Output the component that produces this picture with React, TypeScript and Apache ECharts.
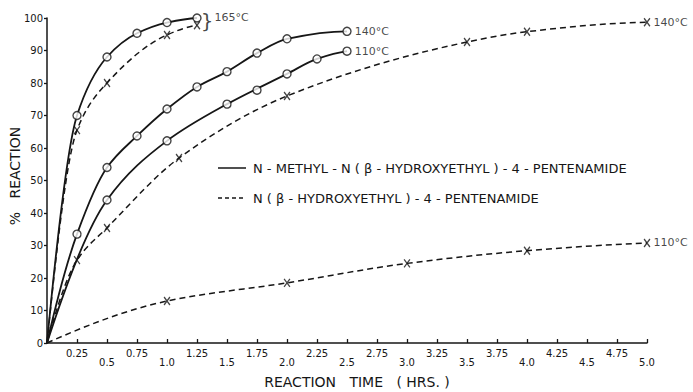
import React, { useEffect, useRef } from "react";
import * as echarts from "echarts";

// Reaction time (hrs) vs % reaction
const xMax = 5.0;
const xInterval = 0.25;
const yMax = 100;
const yInterval = 10;

const origin: [number, number] = [0, 0];

// N-methyl-N(β-hydroxyethyl)-4-pentenamide (solid, circles)
const methyl165: [number, number][] = [[0.25, 70], [0.5, 88], [0.75, 95.3], [1.0, 98.6], [1.25, 100]];
const methyl140: [number, number][] = [[0.25, 33.5], [0.5, 54], [0.75, 63.7], [1.0, 72], [1.25, 78.8], [1.5, 83.5], [1.75, 89.2], [2.0, 93.6], [2.5, 95.9]];
const methyl110: [number, number][] = [[0.5, 44], [1.0, 62.2], [1.5, 73.5], [2.0, 82.8], [2.25, 87.4], [2.5, 89.8]];
const methyl110Outlier: [number, number][] = [[1.75, 77.8]];

// N(β-hydroxyethyl)-4-pentenamide (dashed, X)
const hydroxy165: [number, number][] = [[0.25, 65.5], [0.5, 80], [1.0, 94.8], [1.25, 97.8]];
const hydroxy140: [number, number][] = [[0.25, 25.5], [0.5, 35.4], [1.1, 56.9], [2.0, 76], [3.5, 92.6], [4.0, 95.8], [5.0, 98.7]];
const hydroxy110: [number, number][] = [[1.0, 12.9], [2.0, 18.5], [3.0, 24.5], [4.0, 28.4], [5.0, 30.8]];

const legendSolid = "N - METHYL - N ( β - HYDROXYETHYL ) - 4 - PENTENAMIDE";
const legendDashed = "N ( β - HYDROXYETHYL ) - 4 - PENTENAMIDE";
const xTitle = "REACTION   TIME   ( HRS. )";
const yTitle = "%   REACTION";

const INK = "#161616";
const FONT = "DejaVu Sans";
const XPATH = "path://M0,0L10,12M10,0L0,12";

// monotone cubic (Fritsch–Carlson) tangents
function tangents(p: [number, number][]) {
  const n = p.length;
  const h: number[] = [];
  const d: number[] = [];
  for (let i = 0; i < n - 1; i++) {
    h.push(p[i + 1][0] - p[i][0]);
    d.push((p[i + 1][1] - p[i][1]) / h[i]);
  }
  const m: number[] = new Array(n).fill(0);
  const endSlope = (h0: number, h1: number, d0: number, d1: number) => {
    let s = ((2 * h0 + h1) * d0 - h0 * d1) / (h0 + h1);
    if (Math.sign(s) !== Math.sign(d0)) s = 0;
    else if (Math.sign(d0) !== Math.sign(d1) && Math.abs(s) > Math.abs(3 * d0)) s = 3 * d0;
    return s;
  };
  if (n === 2) {
    m[0] = d[0];
    m[1] = d[0];
    return m;
  }
  m[0] = endSlope(h[0], h[1], d[0], d[1]);
  m[n - 1] = endSlope(h[n - 2], h[n - 3], d[n - 2], d[n - 3]);
  for (let i = 1; i < n - 1; i++) {
    if (d[i - 1] * d[i] <= 0) m[i] = 0;
    else {
      const w1 = 2 * h[i] + h[i - 1];
      const w2 = h[i] + 2 * h[i - 1];
      m[i] = (w1 + w2) / (w1 / d[i - 1] + w2 / d[i]);
    }
  }
  return m;
}

function curve(pts: [number, number][], dashed: boolean) {
  const all: [number, number][] = [origin, ...pts];
  return {
    type: "custom",
    silent: true,
    clip: false,
    z: dashed ? 2 : 3,
    data: all,
    renderItem: (params: any, api: any) => {
      if (params.dataIndex !== 0) return null;
      const m = tangents(all);
      const c = (x: number, y: number) => api.coord([x, y]);
      const p0 = c(all[0][0], all[0][1]);
      let dStr = `M${p0[0]},${p0[1]}`;
      for (let i = 0; i < all.length - 1; i++) {
        const [x0, y0] = all[i];
        const [x1, y1] = all[i + 1];
        const hh = (x1 - x0) / 3;
        const a = c(x0 + hh, y0 + m[i] * hh);
        const b = c(x1 - hh, y1 - m[i + 1] * hh);
        const e = c(x1, y1);
        dStr += ` C${a[0]},${a[1]} ${b[0]},${b[1]} ${e[0]},${e[1]}`;
      }
      return {
        type: "path",
        shape: { pathData: dStr },
        style: {
          fill: "none",
          stroke: INK,
          lineWidth: dashed ? 1.5 : 1.8,
          lineDash: dashed ? [6, 4] : null,
        },
      };
    },
  };
}

function markers(pts: [number, number][], dashed: boolean, endLabel: any) {
  const li = pts.length - 1;
  return {
    type: "scatter",
    silent: true,
    z: 5,
    data: pts.map((p, i) => {
      const item: any = { value: p };
      if (endLabel && i === li) {
        item.label = {
          show: true,
          position: "right",
          color: INK,
          fontFamily: FONT,
          fontSize: 11,
          distance: 3,
          ...endLabel,
        };
      }
      return item;
    }),
    symbol: dashed ? XPATH : "circle",
    symbolSize: dashed ? [7, 8] : 8,
    symbolKeepAspect: true,
    itemStyle: {
      color: dashed ? "rgba(0,0,0,0)" : "#ffffff",
      borderColor: INK,
      borderWidth: 1.4,
    },
  };
}

export default function App() {
  const ref = useRef<HTMLDivElement>(null);
  useEffect(() => {
    if (!ref.current) return;
    const chart = echarts.init(ref.current, null, { renderer: "svg" });
    const option: any = {
      animation: false,
      backgroundColor: "#ffffff",
      grid: { left: 47, right: 46, top: 18, bottom: 49 },
      xAxis: {
        type: "value",
        min: 0,
        max: xMax,
        interval: xInterval,
        axisLine: { show: true, lineStyle: { color: INK, width: 1.5 } },
        axisTick: { show: true, inside: true, length: 4, lineStyle: { color: INK, width: 1.3 } },
        splitLine: { show: false },
        axisLabel: {
          color: INK,
          fontFamily: FONT,
          fontSize: 10,
          margin: 5,
          showMinLabel: true,
          showMaxLabel: true,
          formatter: (v: number) => {
            if (v === 0) return "";
            const half = Math.abs(v * 2 - Math.round(v * 2)) < 1e-6;
            return half ? "{lo|" + v.toFixed(1) + "}" : "{hi|" + v.toFixed(2) + "}";
          },
          rich: {
            lo: { fontFamily: FONT, fontSize: 10, color: INK, padding: [9, 0, 0, 0] },
            hi: { fontFamily: FONT, fontSize: 10, color: INK, padding: [0, 0, 0, 0] },
          },
        },
      },
      yAxis: {
        type: "value",
        min: 0,
        max: yMax,
        interval: yInterval,
        axisLine: { show: true, lineStyle: { color: INK, width: 1.5 } },
        axisTick: { show: true, inside: false, length: 3, lineStyle: { color: INK, width: 1.3 } },
        splitLine: { show: false },
        axisLabel: { color: INK, fontFamily: FONT, fontSize: 10, margin: 4 },
      },
      series: [
        curve(methyl165, false),
        curve(hydroxy165, true),
        curve(methyl140, false),
        curve(methyl110, false),
        curve(hydroxy140, true),
        curve(hydroxy110, true),
        markers(methyl165, false, {
          formatter: "}{t|165°C}",
          fontSize: 20,
          distance: 1,
          offset: [-2, 3],
          rich: { t: { fontFamily: FONT, fontSize: 11, color: INK, padding: [0, 0, 7, 1] } },
        }),
        markers(hydroxy165, true, null),
        markers(methyl140, false, { formatter: "140°C" }),
        markers(methyl110, false, { formatter: "110°C" }),
        markers(methyl110Outlier, false, null),
        markers(hydroxy140, true, { formatter: "140°C" }),
        markers(hydroxy110, true, { formatter: "110°C" }),
      ],
      graphic: [
        { type: "line", shape: { x1: 218, y1: 168, x2: 246, y2: 168 }, style: { stroke: INK, lineWidth: 1.5 } },
        { type: "line", shape: { x1: 218, y1: 198, x2: 246, y2: 198 }, style: { stroke: INK, lineWidth: 1.4, lineDash: [4, 3] } },
        {
          type: "text",
          x: 253,
          y: 168,
          style: { text: legendSolid, fill: INK, font: `13px '${FONT}'`, textVerticalAlign: "middle" },
        },
        {
          type: "text",
          x: 253,
          y: 198,
          style: { text: legendDashed, fill: INK, font: `13px '${FONT}'`, textVerticalAlign: "middle" },
        },
        {
          type: "text",
          x: 357,
          y: 382,
          style: { text: xTitle, fill: INK, font: `14px '${FONT}'`, textAlign: "center", textVerticalAlign: "middle" },
        },
        {
          type: "text",
          x: 15,
          y: 176,
          rotation: Math.PI / 2,
          style: { text: yTitle, fill: INK, font: `14px '${FONT}'`, textAlign: "center", textVerticalAlign: "middle" },
        },
      ],
    };
    chart.setOption(option);
    return () => chart.dispose();
  }, []);
  return (
    <div
      ref={ref}
      style={{ position: "fixed", left: 0, top: 0, width: 693, height: 392 }}
    />
  );
}
